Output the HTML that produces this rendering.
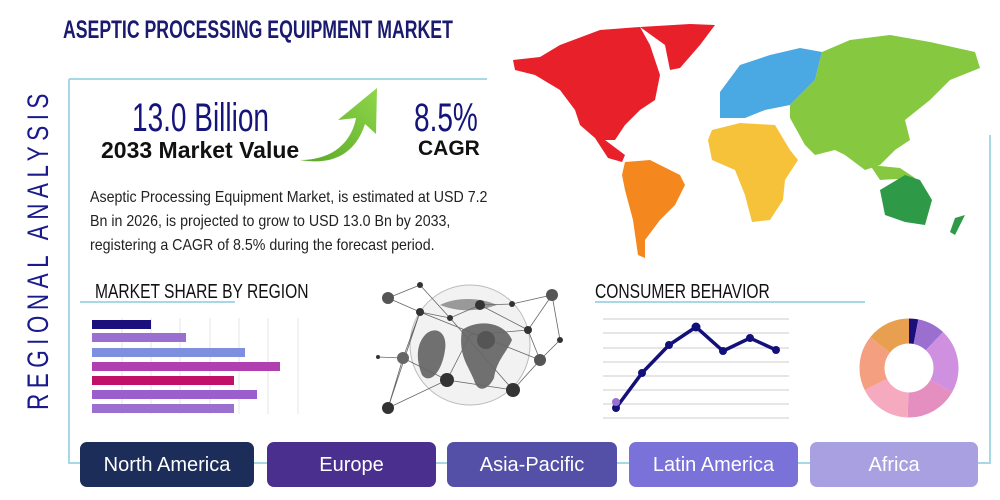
<!DOCTYPE html>
<html><head><meta charset="utf-8"><style>
body{margin:0;width:1000px;height:500px;background:#fff;overflow:hidden;position:relative;font-family:"Liberation Sans",sans-serif}
.a{position:absolute;white-space:nowrap}
.cond{display:inline-block;transform:scaleX(0.72);transform-origin:left center}
.c78{display:inline-block;transform:scaleX(0.78);transform-origin:left center}
.btn{position:absolute;top:442px;height:45px;border-radius:7px;color:#fff;font-size:20px;line-height:47px;text-align:center}
</style></head><body>
<svg class="a" style="left:0;top:0" width="1000" height="500">
<path d="M69 79 H487" stroke="#a8d8e6" stroke-width="2" fill="none"/>
<path d="M69 79 V463 H990 V135" stroke="#a8d8e6" stroke-width="2" fill="none"/>
<polygon fill="#e8202a" points="513,60 540,57 560,45 600,30 640,27 650,45 660,75 655,100 640,110 625,125 615,140 605,140 625,155 622,162 608,158 595,138 580,125 575,110 560,90 535,75 515,70"/>
<polygon fill="#e8202a" points="640,27 690,24 715,25 700,45 680,68 670,70 665,45"/>
<polygon fill="#f4871e" points="625,162 650,160 680,175 685,185 675,205 660,220 645,240 645,258 638,255 633,220 625,190 622,175"/>
<polygon fill="#4aa8e2" points="720,92 740,65 770,55 800,48 822,52 815,80 790,105 765,110 745,118 720,118"/>
<polygon fill="#f6c23a" points="712,130 740,123 775,125 790,150 798,160 785,180 783,200 770,220 752,222 745,195 735,170 712,160 708,140"/>
<polygon fill="#86c940" points="822,52 850,40 890,35 930,42 975,52 980,68 950,80 930,100 905,120 910,140 895,150 880,165 865,170 845,155 835,150 815,155 805,145 790,118 790,105 815,80"/>
<polygon fill="#86c940" points="870,165 900,168 915,178 880,180"/>
<polygon fill="#2e9a48" points="880,190 905,175 920,180 932,200 925,225 905,222 885,215 882,200"/>
<polygon fill="#2e9a48" points="955,218 965,215 955,235 950,232"/>
<defs><linearGradient id="g" x1="0" y1="1" x2="1" y2="0"><stop offset="0" stop-color="#5aa828"/><stop offset="1" stop-color="#8ed64a"/></linearGradient></defs>
<path d="M300 160 C335 160 352 140 356 118 L338 120 L377 88 L376 134 L365 124 C356 152 335 166 300 160 Z" fill="url(#g)"/>
<path d="M80 302 H235" stroke="#a8d8e6" stroke-width="2"/>
<path d="M595 302 H865" stroke="#a8d8e6" stroke-width="2"/>
<g stroke="#e4e4e4" stroke-width="1">
<path d="M122 318 V414 M151 318 V414 M180 318 V414 M210 318 V414 M239 318 V414 M268 318 V414 M298 318 V414"/>
</g>
<rect x="92" y="320" width="59" height="9" fill="#1b0f7c"/>
<rect x="92" y="333" width="94" height="9" fill="#9b6fd0"/>
<rect x="92" y="348" width="153" height="9" fill="#7f8fe0"/>
<rect x="92" y="362" width="188" height="9" fill="#b040b0"/>
<rect x="92" y="376" width="142" height="9" fill="#c0106a"/>
<rect x="92" y="390" width="165" height="9" fill="#9a5fcc"/>
<rect x="92" y="404" width="142" height="9" fill="#9a6fd0"/>
<circle cx="470" cy="345" r="60" fill="#f2f2f2" stroke="#bbb" stroke-width="1"/>
<path d="M425 335 C435 325 448 332 445 350 C442 372 430 385 422 375 C416 360 416 345 425 335Z" fill="#707070"/>
<path d="M462 330 C480 318 505 323 512 340 C505 355 497 360 494 378 C487 392 477 392 474 380 C468 365 458 355 462 330Z" fill="#707070"/>
<path d="M440 305 C455 297 480 297 497 305 C480 311 460 313 440 305Z" fill="#999"/>
<g stroke="#666" stroke-width="0.8" fill="none">
<path d="M388 298 L420 312 L450 318 L480 305 L512 304 L552 295 L528 330 L540 360 L513 390 L447 380 L388 408 L403 358 L420 312 M403 358 L447 380 M480 305 L528 330 M450 318 L513 390 M420 312 L540 360 M388 408 L420 312 M420 285 L388 298 M420 285 L450 318 M552 295 L560 340 L540 360 M403 358 L378 357 M447 380 L470 335 L528 330"/>
</g>
<g fill="#333">
<circle cx="420" cy="312" r="4"/><circle cx="388" cy="298" r="6" fill="#555"/><circle cx="450" cy="318" r="3"/><circle cx="480" cy="305" r="5"/>
<circle cx="512" cy="304" r="3"/><circle cx="552" cy="295" r="6" fill="#555"/><circle cx="528" cy="330" r="4"/><circle cx="540" cy="360" r="6" fill="#555"/>
<circle cx="513" cy="390" r="7"/><circle cx="447" cy="380" r="7"/><circle cx="388" cy="408" r="6"/><circle cx="403" cy="358" r="6" fill="#666"/>
<circle cx="486" cy="340" r="9" fill="#555"/><circle cx="420" cy="285" r="3"/><circle cx="560" cy="340" r="3"/><circle cx="378" cy="357" r="2"/>
</g>
<g stroke="#d8d8d8" stroke-width="1.2">
<path d="M603 319 H789 M603 333 H789 M603 348 H789 M603 362 H789 M603 376 H789 M603 390 H789 M603 404 H789 M603 418 H789"/>
</g>
<polyline points="616,408 642,373 669,345 696,327 723,351 750,338 776,350" fill="none" stroke="#14107a" stroke-width="3.5"/>
<g fill="#14107a"><circle cx="616" cy="408" r="4"/><circle cx="642" cy="373" r="4"/><circle cx="669" cy="345" r="4"/><circle cx="696" cy="327" r="4.5"/><circle cx="723" cy="351" r="4"/><circle cx="750" cy="338" r="4"/><circle cx="776" cy="350" r="4"/></g>
<circle cx="616" cy="402" r="4" fill="#9b6fd0"/>
</svg>
<svg class="a" style="left:859px;top:318px" width="100" height="100" viewBox="-50 -50 100 100">
<g fill="none" stroke-width="25" transform="rotate(-90)">
<circle r="37" stroke="#1b0f7c" stroke-dasharray="7 300" stroke-dashoffset="0"/>
<circle r="37" stroke="#9b6fd0" stroke-dasharray="21 300" stroke-dashoffset="-7"/>
<circle r="37" stroke="#d090e0" stroke-dasharray="49 300" stroke-dashoffset="-28"/>
<circle r="37" stroke="#e58ec0" stroke-dasharray="40 300" stroke-dashoffset="-77"/>
<circle r="37" stroke="#f6aac0" stroke-dasharray="40 300" stroke-dashoffset="-117"/>
<circle r="37" stroke="#f4a080" stroke-dasharray="42 300" stroke-dashoffset="-157"/>
<circle r="37" stroke="#e8a050" stroke-dasharray="34 300" stroke-dashoffset="-199"/>
</g></svg>

<div class="a" style="left:63px;top:16px;font-size:25px;font-weight:bold;color:#1a1a6e"><span class="cond" style="transform:scaleX(0.707)">ASEPTIC PROCESSING EQUIPMENT MARKET</span></div>
<div class="a" style="left:22px;top:410px;transform:rotate(-90deg);transform-origin:left top;font-size:30px;color:#1a1a8c;letter-spacing:7.3px"><span class="c78" style="transform:scaleX(0.75)">REGIONAL ANALYSIS</span></div>
<div class="a" style="left:132px;top:96px;font-size:40px;color:#14147a"><span class="cond" style="transform:scaleX(0.7)">13.0 Billion</span></div>
<div class="a" style="left:101px;top:137px;font-size:23px;font-weight:bold;color:#111">2033 Market Value</div>
<div class="a" style="left:414px;top:96px;font-size:40px;color:#14147a"><span class="cond" style="transform:scaleX(0.7)">8.5%</span></div>
<div class="a" style="left:418px;top:137px;font-size:21px;font-weight:bold;color:#111">CAGR</div>
<div class="a" style="left:90px;top:186px;font-size:15.8px;line-height:24px;color:#222"><span style="display:inline-block;transform:scaleX(0.9);transform-origin:left top">Aseptic Processing Equipment Market, is estimated at USD 7.2<br>Bn in 2026, is projected to grow to USD 13.0 Bn by 2033,<br>registering a CAGR of 8.5% during the forecast period.</span></div>
<div class="a" style="left:95px;top:281px;font-size:20px;color:#111"><span class="c78">MARKET SHARE BY REGION</span></div>
<div class="a" style="left:595px;top:281px;font-size:20px;color:#111"><span class="c78">CONSUMER BEHAVIOR</span></div>

<div class="btn" style="left:80px;width:174px;background:#1c2d5a">North America</div>
<div class="btn" style="left:267px;width:169px;background:#4a2f8e">Europe</div>
<div class="btn" style="left:447px;width:170px;background:#5450a8">Asia-Pacific</div>
<div class="btn" style="left:629px;width:169px;background:#7a72d8">Latin America</div>
<div class="btn" style="left:810px;width:168px;background:#a8a0e0">Africa</div>
</body></html>
